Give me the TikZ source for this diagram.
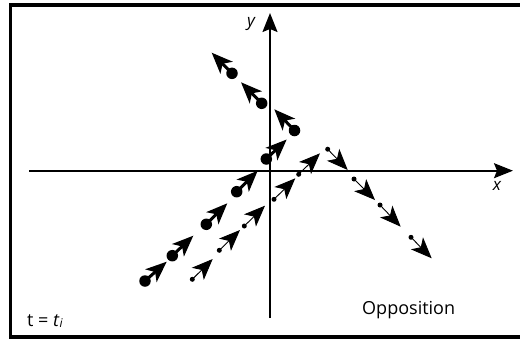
\documentclass[tikz,border=0pt]{standalone}
\usepackage{fontspec}
\setmainfont{Open Sans}
\usetikzlibrary{arrows.meta}
\tikzset{
  bigdot/.style={circle,fill=black,inner sep=0pt,minimum size=11.5pt},
  smalldot/.style={circle,fill=black,inner sep=0pt,minimum size=5pt},
  bigarrow/.style={line width=3pt,-{Stealth[length=21pt,width=17pt,inset=5.5pt]}},
  smallarrow/.style={line width=0.9pt,-{Stealth[length=21pt,width=17pt,inset=5.5pt]}},
  axis/.style={line width=1.6pt,-{Stealth[length=19pt,width=15pt,inset=3pt]}},
  lab/.style={inner sep=0pt,font=\fontsize{18}{21}\selectfont}
}
\begin{document}
\begin{tikzpicture}[x=1pt,y=-1pt]
\useasboundingbox (0,0) rectangle (520,338);
\draw[line width=3.3pt] (10.7,5) rectangle (523,337);
% axes
\coordinate (xs) at (29,170.7);
\coordinate (xe) at (513,170.7);
\coordinate (ys) at (270,318);
\coordinate (ye) at (270,13);
\draw[axis] (xs) -- (xe);
\draw[axis] (ys) -- (ye);
\node[lab,font=\fontsize{17}{20}\selectfont\itshape] (xl) at (497,186) {x};
\node[lab,font=\fontsize{17}{20}\selectfont\itshape] (yl) at (251,24) {y};
% big dots, up-left
\foreach \i/\a/\b/\c/\d in {1/232/73.3/211.7/52.7, 2/261.7/103.3/241/82.3, 3/294.5/130.5/274.3/109.3}{
  \node[bigdot] (u\i) at (\a,\b) {};
  \coordinate (ut\i) at (\c,\d);
  \draw[bigarrow] (u\i.center) -- (ut\i);
}
% big dots, up-right
\foreach \i/\a/\b/\c/\d in {1/145/281/166.7/261.7, 2/172.3/255.7/193.3/235.7, 3/206.3/224.3/227.3/203.3, 4/236.7/191.7/257.7/170.7, 5/266.3/159/286.7/139.5}{
  \node[bigdot] (r\i) at (\a,\b) {};
  \coordinate (rt\i) at (\c,\d);
  \draw[bigarrow] (r\i.center) -- (rt\i);
}
% small dots
\foreach \i/\a/\b/\c/\d in {1/192.3/279.3/212.7/259, 2/219.3/250.3/240/230, 3/244.3/226/265/205.7, 4/274/199.3/295.3/178.3, 5/298.7/174.3/320/153.3, 6/327.7/149.2/347.7/170, 7/354/179/375/200, 8/380/205/400.7/226.7, 9/411/237.3/431.7/258.3}{
  \node[smalldot] (s\i) at (\a,\b) {};
  \coordinate (st\i) at (\c,\d);
  \draw[smallarrow] (s\i.center) -- (st\i);
}
\node[lab,anchor=west] (opp) at (362,310) {Opposition};
\node[lab,anchor=west] (tt) at (27,321) {t = \textit{t}\raisebox{-0.5pt}{\fontsize{12}{14}\selectfont\itshape i}};
\end{tikzpicture}
\end{document}
